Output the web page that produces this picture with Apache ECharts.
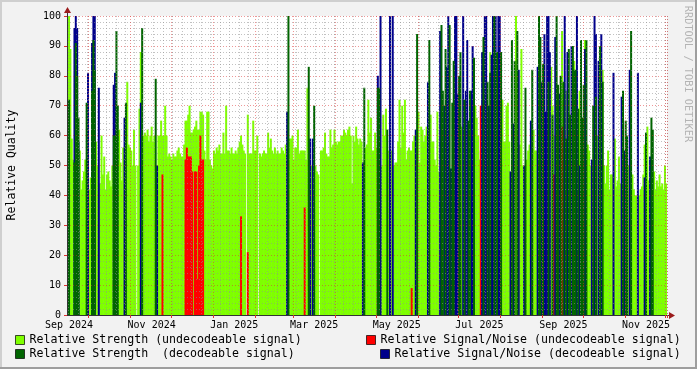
<!DOCTYPE html>
<html><head><meta charset="utf-8">
<script src="https://cdn.jsdelivr.net/npm/echarts@6/dist/echarts.min.js"></script>
<style>html,body{margin:0;padding:0;background:#f2f2f2}#c{width:697px;height:369px}</style>
</head><body><div id="c"></div><script>
const n = null;
// one category per day, starting at startDate
const startDate = '2024-09-15';
const dayCount = 443;
const tickLabelDates = ['2024-09-16','2024-11-16','2025-01-16','2025-03-16','2025-05-16','2025-07-16','2025-09-16','2025-11-16'];
const tickLabels = ['Sep 2024','Nov 2024','Jan 2025','Mar 2025','May 2025','Jul 2025','Sep 2025','Nov 2025'];
const seriesNames = ['Relative Strength (undecodeable signal)','Relative Signal/Noise (undecodeable signal)','Relative Strength  (decodeable signal)','Relative Signal/Noise (decodeable signal)'];

// Relative Strength (undecodeable signal), one value per day
const strengthUndec = [
85,100,89,59,52,n,n,n,n,55,
42,45,48,52,n,n,42,46,n,n,
n,58,50,n,44,60,47,53,42,47,
48,45,43,50,n,n,n,n,62,51,
45,56,n,n,78,57,56,55,50,62,
50,n,50,69,88,n,60,61,60,62,
58,60,63,58,60,n,n,60,60,65,
60,60,70,60,53,54,53,52,54,53,
53,55,56,54,53,53,57,65,65,67,
70,61,61,62,63,65,62,62,68,68,
67,55,52,68,68,52,50,49,55,54,
56,55,57,54,54,61,54,70,55,55,
54,56,54,54,55,54,56,58,60,57,
55,54,n,67,54,54,54,65,55,55,
60,n,54,53,54,55,54,54,61,56,
59,55,54,56,54,55,54,54,56,55,
54,57,n,n,59,59,60,52,56,56,
62,54,55,55,55,55,52,76,n,n,
50,n,n,50,48,47,n,55,55,56,
61,54,53,53,62,56,57,62,58,57,
58,58,60,60,62,61,60,62,63,60,
44,60,58,63,59,57,59,58,n,n,
56,57,72,61,66,55,55,61,56,n,
n,n,50,67,60,69,n,55,n,55,
n,50,51,51,58,72,56,70,61,72,
52,55,56,55,55,58,60,n,n,68,
51,63,62,58,60,63,n,n,67,58,
58,52,50,68,48,n,n,n,n,n,
n,n,n,n,n,n,n,n,n,n,
n,63,n,n,n,n,n,n,n,n,
n,70,66,60,52,55,n,n,n,n,
n,n,88,n,n,n,n,n,n,n,
n,72,58,58,70,71,58,n,n,n,
n,100,n,n,57,89,50,n,n,52,
55,57,n,n,62,55,55,n,n,n,
n,n,n,n,n,n,n,83,70,60,
n,n,n,n,n,95,n,n,75,n,
n,n,n,n,85,n,n,n,75,n,
n,n,92,n,57,55,50,n,n,n,
n,60,n,n,n,82,50,44,50,55,
42,47,47,n,59,43,45,53,44,n,
n,n,n,n,50,n,n,47,42,40,
40,n,40,42,43,47,57,n,63,45,
n,n,n,48,42,45,43,47,43,44,
42,50,44
];
// [day index, value]
const snUndec = [[70,47],[87,52],[88,56],[89,53],[90,53],[91,53],[92,48],[94,48],[95,48],[96,12],[97,50],[98,60],[99,52],[100,52],[128,33],[133,21],[175,36],[254,9],[305,70],[359,47],[365,63]];
const strengthDec = [[1,72],[5,51],[6,91],[7,80],[8,66],[14,71],[18,75],[19,92],[20,82],[34,60],[35,60],[36,95],[37,70],[43,71],[55,96],[65,79],[163,100],[178,83],[182,70],[219,76],[229,76],[230,76],[236,62],[258,94],[267,92],[276,97],[277,75],[279,89],[282,97],[284,71],[285,85],[289,80],[290,88],[293,72],[296,65],[297,75],[300,86],[307,93],[310,78],[312,81],[315,100],[317,88],[320,88],[328,92],[330,85],[332,95],[338,76],[343,82],[348,100],[349,93],[351,84],[355,78],[358,67],[361,100],[362,77],[364,80],[366,78],[368,59],[370,89],[371,67],[373,90],[374,82],[375,82],[377,69],[379,92],[380,66],[381,77],[383,92],[388,70],[390,73],[393,90],[395,78],[410,75],[412,65],[413,60],[416,95],[427,61],[431,66],[432,62]];
const snDec = [[0,48],[5,96],[6,100],[7,96],[8,58],[15,81],[18,91],[19,100],[20,100],[23,76],[34,77],[35,81],[42,66],[54,71],[66,50],[162,68],[179,59],[181,59],[218,51],[229,80],[231,100],[238,100],[240,100],[257,62],[266,78],[275,95],[278,70],[280,83],[281,100],[283,49],[286,100],[287,100],[288,74],[292,100],[294,75],[295,92],[298,75],[299,90],[306,88],[308,100],[309,100],[311,70],[313,87],[314,100],[316,100],[318,100],[319,100],[327,48],[329,64],[333,82],[337,50],[342,65],[347,83],[350,78],[352,94],[353,68],[354,100],[355,100],[356,88],[360,93],[363,74],[367,100],[369,88],[372,90],[376,100],[378,50],[382,89],[387,52],[389,100],[390,94],[392,85],[394,94],[403,81],[409,73],[411,55],[415,82],[421,81],[426,46],[430,53]];

const days = [];
const t0 = new Date(startDate + 'T00:00:00Z').getTime();
for (let i = 0; i < dayCount; i++) days.push(new Date(t0 + i * 86400000).toISOString().slice(0, 10));
const labelMap = {};
tickLabelDates.forEach((d, i) => labelMap[d] = tickLabels[i]);
function full(pairs) { const a = new Array(dayCount).fill(null); pairs.forEach(p => a[p[0]] = p[1]); return a; }

const mono = 'DejaVu Sans Mono';
const gridMinor = 'rgba(143,143,143,0.55)';
const gridMajor = 'rgba(222,48,48,0.5)';
const colors = ['#7FFF00', '#FF0000', '#006400', '#00008B'];

function bar(name, data, color, z) {
  return { name, type: 'bar', data, barGap: '-100%', barWidth: 2, itemStyle: { color }, z, silent: true, animation: false };
}
function leg(name, left, top) {
  return { data: [name], left, top, padding: 0, itemWidth: 9, itemHeight: 9, icon: 'rect', selectedMode: false,
    itemStyle: { borderColor: 'rgba(0,0,0,0.7)', borderWidth: 1 },
    textStyle: { fontFamily: mono, fontSize: 11.6, color: '#000' } };
}

const chart = echarts.init(document.getElementById('c'), null, { renderer: 'canvas' });
chart.setOption({
  backgroundColor: '#f2f2f2',
  animation: false,
  grid: { left: 67, right: 30, top: 16, bottom: 54, show: true, backgroundColor: '#ffffff', borderWidth: 0, containLabel: false },
  legend: [
    leg(seriesNames[0], 15, 334),
    leg(seriesNames[1], 366, 334),
    leg(seriesNames[2], 15, 348),
    leg(seriesNames[3], 380, 348)
  ],
  xAxis: [
    { type: 'category', data: days, boundaryGap: true, position: 'bottom', z: 10,
      axisLine: { show: true, lineStyle: { color: '#333', width: 1 } },
      axisTick: { show: false },
      axisLabel: { interval: (i, v) => labelMap[v] !== undefined, formatter: v => labelMap[v] || '', fontFamily: mono, fontSize: 10, color: '#000', margin: 5 },
      splitLine: { show: true, interval: (i) => i % 7 === 1, lineStyle: { color: gridMinor, type: [1, 2], width: 1 } } },
    { type: 'category', data: days, boundaryGap: true, position: 'bottom', z: 11,
      axisLine: { show: false }, axisLabel: { show: false },
      axisTick: { show: true, interval: (i, v) => v.slice(8) === '01', length: 3, lineStyle: { color: '#de3030' } },
      splitLine: { show: true, interval: (i, v) => v.slice(8) === '01', lineStyle: { color: gridMajor, type: [1, 2], width: 1 } } }
  ],
  yAxis: [{ type: 'value', min: 0, max: 100, interval: 10, z: 10,
    axisLine: { show: true, lineStyle: { color: '#333', width: 1 } },
    axisTick: { show: true, length: 3, lineStyle: { color: '#de3030' } },
    axisLabel: { fontFamily: mono, fontSize: 10, color: '#000', margin: 6 },
    splitLine: { show: true, lineStyle: { color: gridMajor, type: [1, 2], width: 1 } },
    minorTick: { show: false, splitNumber: 5 },
    minorSplitLine: { show: true, lineStyle: { color: gridMinor, type: [1, 2], width: 1 } } }],
  series: [
    bar(seriesNames[0], strengthUndec, colors[0], 2),
    bar(seriesNames[1], full(snUndec), colors[1], 3),
    bar(seriesNames[2], full(strengthDec), colors[2], 5),
    bar(seriesNames[3], full(snDec), colors[3], 4)
  ],
  graphic: [
    { type: 'rect', shape: { x: 0, y: 0, width: 697, height: 2 }, style: { fill: '#cfcfcf' }, silent: true },
    { type: 'rect', shape: { x: 0, y: 0, width: 2, height: 369 }, style: { fill: '#cfcfcf' }, silent: true },
    { type: 'rect', shape: { x: 0, y: 367, width: 697, height: 2 }, style: { fill: '#9e9e9e' }, silent: true },
    { type: 'rect', shape: { x: 695, y: 0, width: 2, height: 369 }, style: { fill: '#9e9e9e' }, silent: true },
    { type: 'line', shape: { x1: 67.5, y1: 16, x2: 67.5, y2: 10 }, style: { stroke: '#333', lineWidth: 1 }, silent: true },
    { type: 'polygon', shape: { points: [[64, 13], [71, 13], [67.5, 7]] }, style: { fill: '#9b1c1c' }, silent: true },
    { type: 'line', shape: { x1: 667, y1: 315.5, x2: 671, y2: 315.5 }, style: { stroke: '#333', lineWidth: 1 }, silent: true },
    { type: 'polygon', shape: { points: [[669, 312], [669, 319], [675, 315.5]] }, style: { fill: '#9b1c1c' }, silent: true },
    { type: 'text', x: 12, y: 165, rotation: Math.PI / 2, silent: true,
      style: { text: 'Relative Quality', font: '11.5px "DejaVu Sans Mono"', fill: '#000', align: 'center', verticalAlign: 'middle' } },
    { type: 'text', x: 688, y: 74, rotation: -Math.PI / 2, silent: true,
      style: { text: 'RRDTOOL / TOBI OETIKER', font: '10.3px "DejaVu Sans Mono"', fill: '#b4b4b4', align: 'center', verticalAlign: 'middle' } }
  ]
});
</script></body></html>
